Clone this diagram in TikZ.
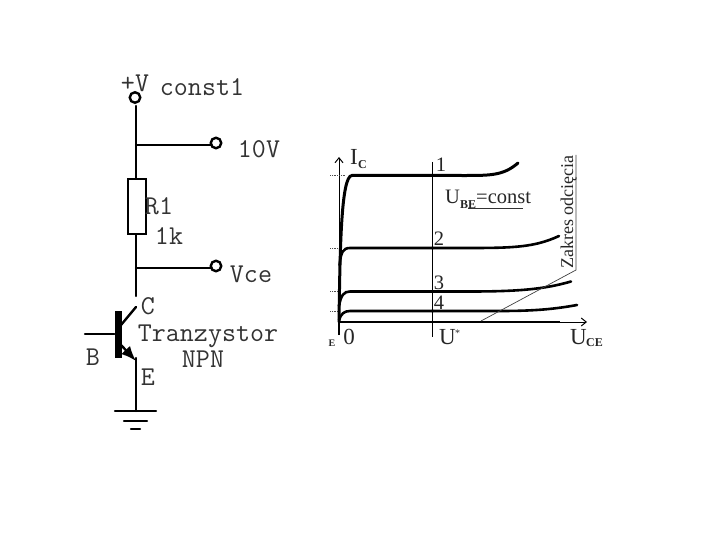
\documentclass[tikz,border=0pt]{standalone}
\usepackage{fontspec}
\setmainfont{Liberation Serif}
\usetikzlibrary{calc,arrows.meta}

\tikzset{
  wire/.style={line width=2.4pt, cap=round},
  terminal/.style={circle, draw, line width=2.4pt, fill=white, inner sep=0pt, minimum size=10.5pt},
  lab/.style={inner sep=0pt, text=black!80, font=\ttfamily\fontsize{27.2}{27.2}\selectfont},
  curve/.style={line width=2.6pt, line cap=round},
  plotlab/.style={inner sep=0pt, text=black!85, font=\fontsize{20.5}{20.5}\selectfont},
  biglab/.style={inner sep=0pt, text=black!85, font=\fontsize{23}{23}\selectfont},
  sublab/.style={inner sep=0pt, text=black!85, font=\bfseries\fontsize{12}{12}\selectfont},
  thinline/.style={line width=0.7pt, black!75},
  tick/.style={line width=0.8pt, densely dotted, black!70}
}

\begin{document}
\begin{tikzpicture}[x=1pt, y=-1pt]

\useasboundingbox (0,0) rectangle (720,540);

% circuit
\node[terminal] (Vp) at (135,97.5) {};
\node[terminal] (T10) at (216,143) {};
\node[terminal] (Tce) at (216,266) {};
\node[draw, line width=2.4pt, minimum width=18pt, minimum height=55pt, inner sep=0pt] (R1) at (137,206.5) {};
\node[fill, minimum width=7pt, minimum height=47pt, inner sep=0pt] (Q) at (118,334.5) {};

\coordinate (J1) at (136,145);
\coordinate (J2) at (136,268);
\coordinate (Cend) at (136,296);
\coordinate (Ctop) at (136,307);
\coordinate (Cb) at (121,325);
\coordinate (Bb) at (85,334);
\coordinate (Eb) at (121,345);
\coordinate (Ee) at (136,361);
\coordinate (G) at (136,411);

\draw[wire] (136,106) -- (J1) -- (R1.north -| J1);
\draw[wire] (J1) -- (T10.south west |- J1);
\draw[wire] (R1.south -| J2) -- (J2) -- (Cend);
\draw[wire] (J2) -- (Tce.south west |- J2);
\draw[wire] (Ctop) -- (Cb);
\draw[wire] (Bb) -- (Q.west |- Bb);
\draw[wire, -{Latex[length=15pt,width=12pt]}] (Eb) -- (Ee);
\draw[wire] ($(Ee)+(0,-3)$) -- (G);

% ground
\draw[wire] ($(G)+(-21,0)$) -- ($(G)+(20,0)$);
\draw[wire] ($(G)+(-12,10)$) -- ($(G)+(11,10)$);
\draw[wire] ($(G)+(-5,18)$) -- ($(G)+(4,18)$);

\node[lab] (lV) at (135,83) {+V};
\node[lab] (lconst) at (202,87) {const1};
\node[lab] (l10) at (259,149) {10V};
\node[lab] (lR) at (159,206) {R1};
\node[lab] (lk) at (169,236) {1k};
\node[lab] (lce) at (251,274) {Vce};
\node[lab] (lC) at (148,306) {C};
\node[lab] (lT) at (208,336) {Tranzystor};
\node[lab] (lN) at (203,359) {NPN};
\node[lab] (lB) at (93,357) {B};
\node[lab] (lE) at (148,377) {E};

% characteristics
\coordinate (O) at (339,322);
\coordinate (Ytop) at (339,157);
\coordinate (Xend) at (587,322);

\draw[line width=1pt, -{Straight Barb[length=5pt,width=8pt]}] (339,335) -- (Ytop);
\draw[line width=2.4pt] (339,335) -- (O);
\draw[line width=2.2pt] (O) -- (560,322);
\draw[line width=1pt, -{Straight Barb[length=5pt,width=8pt]}] (560,322) -- (Xend);

\foreach \y/\x in {175.5/345, 248/340, 291.5/338, 311/338} {
  \draw[tick] (330,\y) -- (\x,\y);
}

\draw[curve, line width=3pt] (O) .. controls (340,250) and (341,175.5) .. (352,175.5) -- (460,175.5)
  .. controls (490,175.5) and (503,176) .. (518,163);
\draw[curve] (339.5,265) .. controls (341,252) and (343,248) .. (350,248) -- (470,248)
  .. controls (515,248) and (535,247) .. (559,236);
\draw[curve] (339,306) .. controls (341,295) and (344,291.5) .. (350,291.5) -- (470,291.5)
  .. controls (520,291.5) and (545,289) .. (571,281.5);
\draw[curve] (339,320) .. controls (341,314) and (344,311) .. (350,311) -- (500,311)
  .. controls (535,311) and (555,309) .. (577,305);

\draw[line width=0.8pt] (432.5,162) -- (432.5,337);
\foreach \y in {175.5,248,291.5,311} {
  \fill (432.5,\y) circle (1.8pt);
}

\draw[thinline] (576,155) -- (576,270) -- (481,321);
\draw[line width=1pt, black!80] (468,209) -- (523,209);

\node[plotlab] (n1) at (441,165) {1};
\node[plotlab] (n2) at (439,239) {2};
\node[plotlab] (n3) at (439,283) {3};
\node[plotlab] (n4) at (439,303) {4};
\node[biglab] (n0) at (349,337) {0};
\node[sublab, font=\bfseries\fontsize{10}{10}\selectfont] (nE) at (332,343) {E};
\node[biglab, anchor=base west] (nI) at (350,165) {I};
\node[sublab, anchor=base west] (nIC) at (358,169) {C};
\node[biglab, anchor=base west] (nU) at (439,344) {U};
\node[plotlab, font=\fontsize{10}{10}\selectfont, anchor=base west] (nUs) at (455,336) {*};
\node[plotlab, anchor=base west] (nB) at (445,204) {U};
\node[sublab, anchor=base west] (nBE) at (460,208) {BE};
\node[plotlab, anchor=base west] (nconst) at (476,204) {=const};
\node[plotlab, font=\fontsize{18}{18}\selectfont, rotate=90, anchor=base west] (nZ) at (573,269) {Zakres odcięcia};
\node[biglab, anchor=base west] (nUc) at (570,344) {U};
\node[sublab, anchor=base west] (nCE) at (586,346) {CE};

\end{tikzpicture}
\end{document}
